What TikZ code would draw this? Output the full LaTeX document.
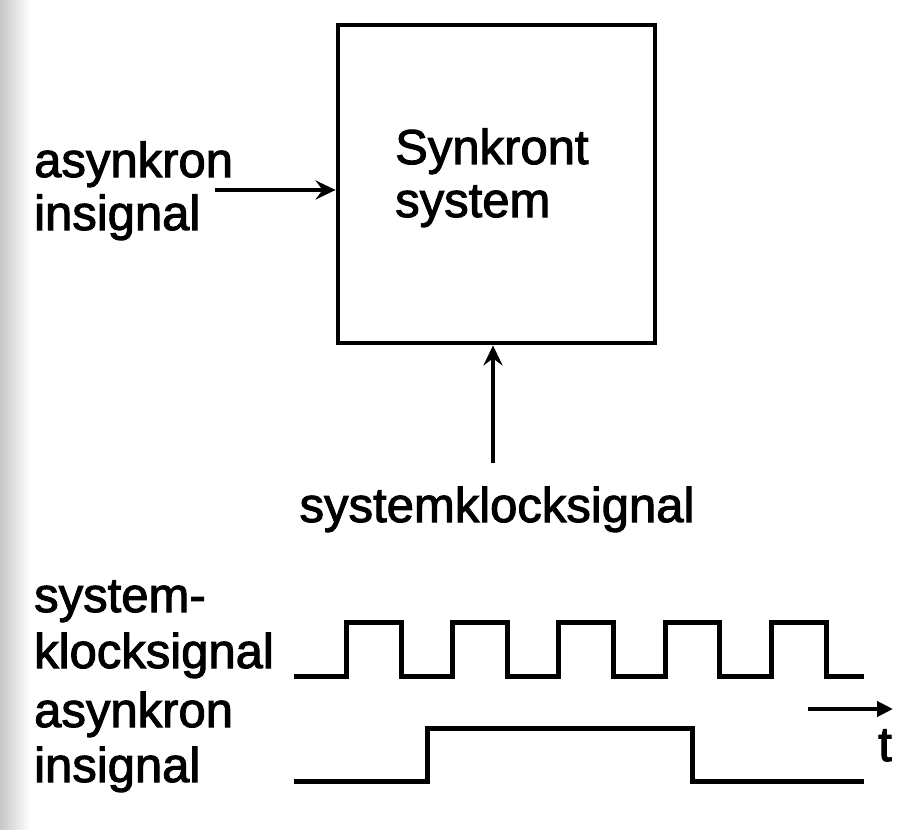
\documentclass[tikz,border=0pt]{standalone}
\usepackage{fontspec}
\setmainfont{Liberation Sans}
\usetikzlibrary{arrows.meta}
\newcommand\heavytext[1]{\special{pdf:literal direct 2 Tr 1.0 w}#1\special{pdf:literal direct 0 Tr}}
\begin{document}
\begin{tikzpicture}[x=1pt,y=-1pt,
  lbl/.style={font=\fontsize{49}{54}\selectfont, inner sep=0pt, anchor=base west},
  sysbox/.style={draw, line width=4.8pt, minimum width=317pt, minimum height=318pt, inner sep=0pt},
  sig/.style={line width=4.2pt, -{Stealth[length=20pt,width=19pt,inset=7pt]}},
  wave/.style={line width=5pt, line join=miter}]
\useasboundingbox (0,0) rectangle (901,829);
\fill[white] (0,0) rectangle (901,829);
\shade[left color=black!22, right color=white] (0,0) rectangle (30,829);
% system box
\node[sysbox] (box) at (496.5,184) {};
\node[lbl] (t1) at (395,164) {\heavytext{Synkront}};
\node[lbl] (t2) at (395,217) {\heavytext{system}};
% input labels
\node[lbl] (a1) at (34,177) {\heavytext{asynkron}};
\node[lbl] (a2) at (34,230) {\heavytext{insignal}};
\coordinate (ain) at (215,190);
\draw[sig] (ain) -- (box.west |- ain);
% clock input
\node[lbl, anchor=base] (clk) at (497,522) {\heavytext{systemklocksignal}};
\coordinate (cin) at (493,463);
\draw[sig] (cin) -- (box.south -| cin);
% timing labels
\node[lbl] (w1) at (34,612) {\heavytext{system-}};
\node[lbl] (w2) at (34,668) {\heavytext{klocksignal}};
\node[lbl] (w3) at (34,727) {\heavytext{asynkron}};
\node[lbl] (w4) at (34,782) {\heavytext{insignal}};
% clock waveform
\coordinate (cs) at (294,676);
\coordinate (ce) at (864,676);
\draw[wave] (cs) -- (346,676) -- (346,622) -- (401,622) -- (401,676)
  -- (452,676) -- (452,622) -- (507,622) -- (507,676)
  -- (558,676) -- (558,622) -- (613,622) -- (613,676)
  -- (665,676) -- (665,622) -- (719,622) -- (719,676)
  -- (771,676) -- (771,622) -- (826,622) -- (826,676) -- (ce);
% async waveform
\coordinate (as) at (294,781);
\coordinate (ae) at (864,781);
\draw[wave] (as) -- (427,781) -- (427,728) -- (692,728) -- (692,781) -- (ae);
% time arrow
\coordinate (ts) at (808,709);
\coordinate (te) at (893,709);
\draw[line width=4.2pt, -{Triangle[length=16pt,width=15pt]}] (ts) -- (te);
\node[lbl] (tt) at (878,761) {\heavytext{t}};
\end{tikzpicture}
\end{document}
